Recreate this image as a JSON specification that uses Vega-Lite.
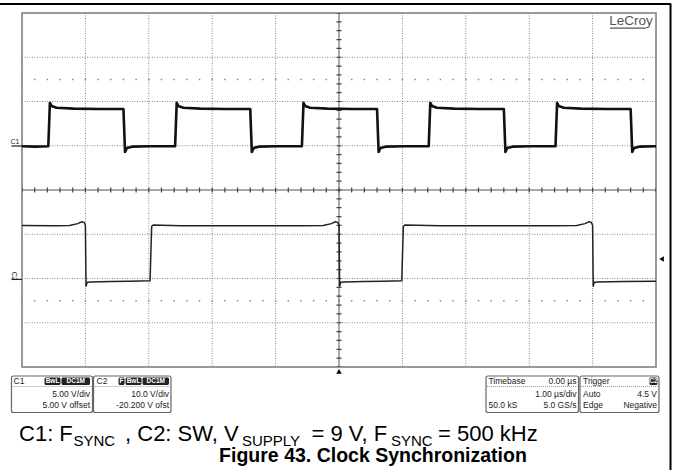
{
"$schema": "https://vega.github.io/schema/vega-lite/v6.json",
"width": 634, "height": 354,
"autosize": "none",
"padding": {"left": 22, "top": 13, "right": 17, "bottom": 103},
"background": "white",
"config": {"view": {"stroke": "#7a7a7a", "strokeWidth": 1.5}, "font": "Liberation Sans"},
"data": {"values": [{}]},
"datasets": {
"c1": [
{"t":-5,"v":0.99},{"t":-4.8,"v":0.98},
{"t":-4.585,"v":0.99},{"t":-4.56,"v":1.97},{"t":-4.535,"v":1.9},{"t":-4.455,"v":1.86},{"t":-4.185,"v":1.84},{"t":-3.785,"v":1.83},{"t":-3.4,"v":1.83},{"t":-3.375,"v":0.86},{"t":-3.345,"v":0.95},{"t":-3.265,"v":0.98},{"t":-2.985,"v":0.99},{"t":-2.6,"v":0.99},
{"t":-2.585,"v":0.99},{"t":-2.56,"v":1.97},{"t":-2.535,"v":1.9},{"t":-2.455,"v":1.86},{"t":-2.185,"v":1.84},{"t":-1.785,"v":1.83},{"t":-1.4,"v":1.83},{"t":-1.375,"v":0.86},{"t":-1.345,"v":0.95},{"t":-1.265,"v":0.98},{"t":-0.985,"v":0.99},{"t":-0.6,"v":0.99},
{"t":-0.585,"v":0.99},{"t":-0.56,"v":1.97},{"t":-0.535,"v":1.9},{"t":-0.455,"v":1.86},{"t":-0.185,"v":1.84},{"t":0.215,"v":1.83},{"t":0.6,"v":1.83},{"t":0.625,"v":0.86},{"t":0.655,"v":0.95},{"t":0.735,"v":0.98},{"t":1.015,"v":0.99},{"t":1.4,"v":0.99},
{"t":1.415,"v":0.99},{"t":1.44,"v":1.97},{"t":1.465,"v":1.9},{"t":1.545,"v":1.86},{"t":1.815,"v":1.84},{"t":2.215,"v":1.83},{"t":2.6,"v":1.83},{"t":2.625,"v":0.86},{"t":2.655,"v":0.95},{"t":2.735,"v":0.98},{"t":3.015,"v":0.99},{"t":3.4,"v":0.99},
{"t":3.415,"v":0.99},{"t":3.44,"v":1.97},{"t":3.465,"v":1.9},{"t":3.545,"v":1.86},{"t":3.815,"v":1.84},{"t":4.215,"v":1.83},{"t":4.6,"v":1.83},{"t":4.625,"v":0.86},{"t":4.655,"v":0.95},{"t":4.735,"v":0.98},{"t":5,"v":0.99}
],
"c2": [
{"t":-5,"v":-0.8},{"t":-4.5,"v":-0.81},{"t":-4.25,"v":-0.8},{"t":-4.12,"v":-0.76},{"t":-4.06,"v":-0.72},{"t":-4.02,"v":-0.73},{"t":-4.0,"v":-0.8},{"t":-3.99,"v":-2.18},{"t":-3.975,"v":-2.09},{"t":-3.93,"v":-2.08},{"t":-3.6,"v":-2.07},{"t":-3.3,"v":-2.06},{"t":-2.98,"v":-2.05},{"t":-2.955,"v":-0.82},{"t":-2.93,"v":-0.79},{"t":-2.5,"v":-0.81},{"t":-1.5,"v":-0.81},{"t":-0.6,"v":-0.81},{"t":-0.25,"v":-0.8},{"t":-0.12,"v":-0.76},{"t":-0.06,"v":-0.72},{"t":-0.02,"v":-0.73},{"t":0.0,"v":-0.8},{"t":0.01,"v":-2.18},{"t":0.025,"v":-2.09},{"t":0.07,"v":-2.08},{"t":0.4,"v":-2.07},{"t":0.7,"v":-2.06},{"t":0.99,"v":-2.05},{"t":1.015,"v":-0.82},{"t":1.04,"v":-0.79},{"t":1.6,"v":-0.81},{"t":2.5,"v":-0.81},{"t":3.4,"v":-0.81},{"t":3.75,"v":-0.8},{"t":3.88,"v":-0.76},{"t":3.94,"v":-0.72},{"t":3.98,"v":-0.73},{"t":4.0,"v":-0.8},{"t":4.01,"v":-2.18},{"t":4.025,"v":-2.09},{"t":4.07,"v":-2.08},{"t":4.5,"v":-2.07},{"t":5.0,"v":-2.06}
]
},
"layer": [
{"mark": {"type": "rule", "color": "#8a8a8a", "strokeWidth": 1, "strokeDash": [1, 1.5]}, "encoding": {"x": {"datum": -4, "axis": null}, "y": {"datum": 4, "axis": null}, "y2": {"datum": -4}}},
{"mark": {"type": "rule", "color": "#8a8a8a", "strokeWidth": 1, "strokeDash": [1, 1.5]}, "encoding": {"x": {"datum": -3, "axis": null}, "y": {"datum": 4, "axis": null}, "y2": {"datum": -4}}},
{"mark": {"type": "rule", "color": "#8a8a8a", "strokeWidth": 1, "strokeDash": [1, 1.5]}, "encoding": {"x": {"datum": -2, "axis": null}, "y": {"datum": 4, "axis": null}, "y2": {"datum": -4}}},
{"mark": {"type": "rule", "color": "#8a8a8a", "strokeWidth": 1, "strokeDash": [1, 1.5]}, "encoding": {"x": {"datum": -1, "axis": null}, "y": {"datum": 4, "axis": null}, "y2": {"datum": -4}}},
{"mark": {"type": "rule", "color": "#8a8a8a", "strokeWidth": 1, "strokeDash": [1, 1.5]}, "encoding": {"x": {"datum": 1, "axis": null}, "y": {"datum": 4, "axis": null}, "y2": {"datum": -4}}},
{"mark": {"type": "rule", "color": "#8a8a8a", "strokeWidth": 1, "strokeDash": [1, 1.5]}, "encoding": {"x": {"datum": 2, "axis": null}, "y": {"datum": 4, "axis": null}, "y2": {"datum": -4}}},
{"mark": {"type": "rule", "color": "#8a8a8a", "strokeWidth": 1, "strokeDash": [1, 1.5]}, "encoding": {"x": {"datum": 3, "axis": null}, "y": {"datum": 4, "axis": null}, "y2": {"datum": -4}}},
{"mark": {"type": "rule", "color": "#8a8a8a", "strokeWidth": 1, "strokeDash": [1, 1.5]}, "encoding": {"x": {"datum": 4, "axis": null}, "y": {"datum": 4, "axis": null}, "y2": {"datum": -4}}},
{"mark": {"type": "rule", "color": "#8a8a8a", "strokeWidth": 1, "strokeDash": [1, 1.5]}, "encoding": {"y": {"datum": 3, "axis": null}, "x": {"datum": -5, "axis": null}, "x2": {"datum": 5}}},
{"mark": {"type": "rule", "color": "#8a8a8a", "strokeWidth": 1, "strokeDash": [1, 1.5]}, "encoding": {"y": {"datum": 2, "axis": null}, "x": {"datum": -5, "axis": null}, "x2": {"datum": 5}}},
{"mark": {"type": "rule", "color": "#8a8a8a", "strokeWidth": 1, "strokeDash": [1, 1.5]}, "encoding": {"y": {"datum": 1, "axis": null}, "x": {"datum": -5, "axis": null}, "x2": {"datum": 5}}},
{"mark": {"type": "rule", "color": "#8a8a8a", "strokeWidth": 1, "strokeDash": [1, 1.5]}, "encoding": {"y": {"datum": -1, "axis": null}, "x": {"datum": -5, "axis": null}, "x2": {"datum": 5}}},
{"mark": {"type": "rule", "color": "#8a8a8a", "strokeWidth": 1, "strokeDash": [1, 1.5]}, "encoding": {"y": {"datum": -2, "axis": null}, "x": {"datum": -5, "axis": null}, "x2": {"datum": 5}}},
{"mark": {"type": "rule", "color": "#8a8a8a", "strokeWidth": 1, "strokeDash": [1, 1.5]}, "encoding": {"y": {"datum": -3, "axis": null}, "x": {"datum": -5, "axis": null}, "x2": {"datum": 5}}},
{"mark": {"type": "rule", "color": "#8a8a8a", "strokeWidth": 1.5, "strokeDash": [1.5, 11.18], "strokeDashOffset": 0.75}, "encoding": {"x": {"datum": -5, "axis": null}, "x2": {"datum": 5}, "y": {"datum": 2.5, "axis": null}}},
{"mark": {"type": "rule", "color": "#8a8a8a", "strokeWidth": 1.5, "strokeDash": [1.5, 11.18], "strokeDashOffset": 0.75}, "encoding": {"x": {"datum": -5, "axis": null}, "x2": {"datum": 5}, "y": {"datum": -2.5, "axis": null}}},
{"mark": {"type": "rule", "color": "#555", "strokeWidth": 1}, "encoding": {"x": {"datum": -5, "axis": null}, "x2": {"datum": 5}, "y": {"datum": 0, "axis": null}}},
{"mark": {"type": "rule", "color": "#444", "strokeWidth": 5, "strokeDash": [1.2, 11.48], "strokeDashOffset": 0.6}, "encoding": {"x": {"datum": -5, "axis": null}, "x2": {"datum": 5}, "y": {"datum": 0, "axis": null}}},
{"mark": {"type": "rule", "color": "#555", "strokeWidth": 1}, "encoding": {"y": {"datum": 4, "axis": null}, "y2": {"datum": -4}, "x": {"datum": 0, "axis": null}}},
{"mark": {"type": "rule", "color": "#444", "strokeWidth": 5, "strokeDash": [1.2, 7.65], "strokeDashOffset": 0.6}, "encoding": {"y": {"datum": 4, "axis": null}, "y2": {"datum": -4}, "x": {"datum": 0, "axis": null}}},
{"data": {"name": "c1"}, "mark": {"type": "line", "color": "#111", "strokeWidth": 2.6, "strokeJoin": "round"}, "encoding": {
 "x": {"field": "t", "type": "quantitative", "scale": {"domain": [-5, 5], "nice": false, "zero": false}, "axis": null},
 "y": {"field": "v", "type": "quantitative", "scale": {"domain": [-4, 4], "nice": false, "zero": false}, "axis": null}}},
{"data": {"name": "c2"}, "mark": {"type": "line", "color": "#222", "strokeWidth": 1.5}, "encoding": {"x": {"field": "t", "type": "quantitative", "axis": null}, "y": {"field": "v", "type": "quantitative", "axis": null}}},
{"mark": {"type": "rule", "color": "#000", "strokeWidth": 2}, "encoding": {"x": {"datum": -5.36, "axis": null}, "x2": {"datum": 5.24}, "y": {"datum": 4.203, "axis": null}}},
{"mark": {"type": "rule", "color": "#000", "strokeWidth": 2}, "encoding": {"x": {"datum": 5.229, "axis": null}, "y": {"datum": 4.203, "axis": null}, "y2": {"datum": -6.4}}},
{"mark": {"type": "text", "text": "LeCroy", "align": "center", "baseline": "alphabetic", "fontSize": 13.5, "color": "#555"}, "encoding": {"x": {"datum": 4.606, "axis": null}, "y": {"datum": 3.718, "axis": null}}},
{"mark": {"type": "rule", "color": "#555", "strokeWidth": 1.2}, "encoding": {"x": {"datum": 4.274, "axis": null}, "x2": {"datum": 4.842}, "y": {"datum": 3.66, "axis": null}}},
{"mark": {"type": "text", "text": "C1", "align": "center", "baseline": "middle", "fontSize": 7, "color": "#222"}, "encoding": {"x": {"datum": -5.11, "axis": null}, "y": {"datum": 1.085, "axis": null}}},
{"mark": {"type": "rule", "color": "#222", "strokeWidth": 1.2}, "encoding": {"x": {"datum": -5.166, "axis": null}, "x2": {"datum": -5.0}, "y": {"datum": 0.994, "axis": null}}},
{"mark": {"type": "text", "text": "C2", "align": "center", "baseline": "middle", "fontSize": 7, "angle": 90, "color": "#222"}, "encoding": {"x": {"datum": -5.13, "axis": null}, "y": {"datum": -1.95, "axis": null}}},
{"mark": {"type": "rule", "color": "#222", "strokeWidth": 1.2}, "encoding": {"x": {"datum": -5.166, "axis": null}, "x2": {"datum": -5.0}, "y": {"datum": -2.02, "axis": null}}},
{"mark": {"type": "point", "shape": "triangle-up", "filled": true, "color": "#000", "size": 30, "opacity": 1}, "encoding": {"x": {"datum": 0, "axis": null}, "y": {"datum": -4.1, "axis": null}}},
{"mark": {"type": "point", "shape": "triangle-left", "filled": true, "color": "#000", "size": 30, "opacity": 1}, "encoding": {"x": {"datum": 5.087, "axis": null}, "y": {"datum": -1.559, "axis": null}}},
{"mark": {"type": "rect", "fill": "white", "stroke": "#666", "strokeWidth": 1.2, "cornerRadius": 2}, "encoding": {"x": {"datum": -5.166, "axis": null}, "x2": {"datum": -3.888}, "y": {"datum": -4.203, "axis": null}, "y2": {"datum": -5.028}}},
{"mark": {"type": "rect", "fill": "white", "stroke": "#666", "strokeWidth": 1.2, "cornerRadius": 2}, "encoding": {"x": {"datum": -3.872, "axis": null}, "x2": {"datum": -2.65}, "y": {"datum": -4.203, "axis": null}, "y2": {"datum": -5.028}}},
{"mark": {"type": "rect", "fill": "white", "stroke": "#666", "strokeWidth": 1.2, "cornerRadius": 2}, "encoding": {"x": {"datum": 2.319, "axis": null}, "x2": {"datum": 3.778}, "y": {"datum": -4.203, "axis": null}, "y2": {"datum": -5.028}}},
{"mark": {"type": "rect", "fill": "white", "stroke": "#666", "strokeWidth": 1.2, "cornerRadius": 2}, "encoding": {"x": {"datum": 3.801, "axis": null}, "x2": {"datum": 5.047}, "y": {"datum": -4.203, "axis": null}, "y2": {"datum": -5.028}}},
{"mark": {"type": "rule", "color": "#999", "strokeWidth": 1, "strokeDash": [1, 1]}, "encoding": {"x": {"datum": -5.15, "axis": null}, "x2": {"datum": -3.905}, "y": {"datum": -4.441, "axis": null}}},
{"mark": {"type": "rule", "color": "#999", "strokeWidth": 1, "strokeDash": [1, 1]}, "encoding": {"x": {"datum": -3.855, "axis": null}, "x2": {"datum": -2.667}, "y": {"datum": -4.441, "axis": null}}},
{"mark": {"type": "rule", "color": "#999", "strokeWidth": 1, "strokeDash": [1, 1]}, "encoding": {"x": {"datum": 2.336, "axis": null}, "x2": {"datum": 3.761}, "y": {"datum": -4.441, "axis": null}}},
{"mark": {"type": "rule", "color": "#999", "strokeWidth": 1, "strokeDash": [1, 1]}, "encoding": {"x": {"datum": 3.818, "axis": null}, "x2": {"datum": 5.03}, "y": {"datum": -4.441, "axis": null}}},
{"mark": {"type": "rect", "fill": "#222", "cornerRadius": 1.5}, "encoding": {"x": {"datum": -4.645, "axis": null}, "x2": {"datum": -4.393}, "y": {"datum": -4.237, "axis": null}, "y2": {"datum": -4.407}}},
{"mark": {"type": "rect", "fill": "#222", "cornerRadius": 1.5}, "encoding": {"x": {"datum": -4.377, "axis": null}, "x2": {"datum": -3.927}, "y": {"datum": -4.237, "axis": null}, "y2": {"datum": -4.407}}},
{"mark": {"type": "rect", "fill": "#222", "cornerRadius": 1.5}, "encoding": {"x": {"datum": -3.478, "axis": null}, "x2": {"datum": -3.383}, "y": {"datum": -4.237, "axis": null}, "y2": {"datum": -4.407}}},
{"mark": {"type": "rect", "fill": "#222", "cornerRadius": 1.5}, "encoding": {"x": {"datum": -3.367, "axis": null}, "x2": {"datum": -3.115}, "y": {"datum": -4.237, "axis": null}, "y2": {"datum": -4.407}}},
{"mark": {"type": "rect", "fill": "#222", "cornerRadius": 1.5}, "encoding": {"x": {"datum": -3.099, "axis": null}, "x2": {"datum": -2.681}, "y": {"datum": -4.237, "axis": null}, "y2": {"datum": -4.407}}},
{"mark": {"type": "rect", "fill": "#222", "cornerRadius": 1.5}, "encoding": {"x": {"datum": 4.897, "axis": null}, "x2": {"datum": 5.024}, "y": {"datum": -4.237, "axis": null}, "y2": {"datum": -4.407}}},
{"mark": {"type": "text", "text": "BwL", "align": "center", "baseline": "middle", "fontSize": 6.5, "fontWeight": "bold", "color": "white"}, "encoding": {"x": {"datum": -4.519, "axis": null}, "y": {"datum": -4.322, "axis": null}}},
{"mark": {"type": "text", "text": "DC1M", "align": "center", "baseline": "middle", "fontSize": 6.5, "fontWeight": "bold", "color": "white"}, "encoding": {"x": {"datum": -4.152, "axis": null}, "y": {"datum": -4.322, "axis": null}}},
{"mark": {"type": "text", "text": "F", "align": "center", "baseline": "middle", "fontSize": 6.5, "fontWeight": "bold", "color": "white"}, "encoding": {"x": {"datum": -3.431, "axis": null}, "y": {"datum": -4.322, "axis": null}}},
{"mark": {"type": "text", "text": "BwL", "align": "center", "baseline": "middle", "fontSize": 6.5, "fontWeight": "bold", "color": "white"}, "encoding": {"x": {"datum": -3.241, "axis": null}, "y": {"datum": -4.322, "axis": null}}},
{"mark": {"type": "text", "text": "DC1M", "align": "center", "baseline": "middle", "fontSize": 6.5, "fontWeight": "bold", "color": "white"}, "encoding": {"x": {"datum": -2.89, "axis": null}, "y": {"datum": -4.322, "axis": null}}},
{"mark": {"type": "text", "text": "C2", "align": "center", "baseline": "middle", "fontSize": 6.5, "fontWeight": "bold", "color": "white"}, "encoding": {"x": {"datum": 4.961, "axis": null}, "y": {"datum": -4.322, "axis": null}}},
{"mark": {"type": "text", "text": "C1", "align": "left", "baseline": "middle", "fontSize": 8.5, "color": "#222"}, "encoding": {"x": {"datum": -5.134, "axis": null}, "y": {"datum": -4.316, "axis": null}}},
{"mark": {"type": "text", "text": "5.00 V/div", "align": "right", "baseline": "middle", "fontSize": 8.5, "color": "#222"}, "encoding": {"x": {"datum": -3.927, "axis": null}, "y": {"datum": -4.61, "axis": null}}},
{"mark": {"type": "text", "text": "5.00 V offset", "align": "right", "baseline": "middle", "fontSize": 8.5, "color": "#222"}, "encoding": {"x": {"datum": -3.927, "axis": null}, "y": {"datum": -4.859, "axis": null}}},
{"mark": {"type": "text", "text": "C2", "align": "left", "baseline": "middle", "fontSize": 8.5, "color": "#222"}, "encoding": {"x": {"datum": -3.825, "axis": null}, "y": {"datum": -4.316, "axis": null}}},
{"mark": {"type": "text", "text": "10.0 V/div", "align": "right", "baseline": "middle", "fontSize": 8.5, "color": "#222"}, "encoding": {"x": {"datum": -2.681, "axis": null}, "y": {"datum": -4.61, "axis": null}}},
{"mark": {"type": "text", "text": "-20.200 V ofst", "align": "right", "baseline": "middle", "fontSize": 8.5, "color": "#222"}, "encoding": {"x": {"datum": -2.681, "axis": null}, "y": {"datum": -4.859, "axis": null}}},
{"mark": {"type": "text", "text": "Timebase", "align": "left", "baseline": "middle", "fontSize": 8.5, "color": "#222"}, "encoding": {"x": {"datum": 2.358, "axis": null}, "y": {"datum": -4.316, "axis": null}}},
{"mark": {"type": "text", "text": "0.00 µs", "align": "right", "baseline": "middle", "fontSize": 8.5, "color": "#222"}, "encoding": {"x": {"datum": 3.746, "axis": null}, "y": {"datum": -4.316, "axis": null}}},
{"mark": {"type": "text", "text": "1.00 µs/div", "align": "right", "baseline": "middle", "fontSize": 8.5, "color": "#222"}, "encoding": {"x": {"datum": 3.746, "axis": null}, "y": {"datum": -4.61, "axis": null}}},
{"mark": {"type": "text", "text": "50.0 kS", "align": "left", "baseline": "middle", "fontSize": 8.5, "color": "#222"}, "encoding": {"x": {"datum": 2.358, "axis": null}, "y": {"datum": -4.859, "axis": null}}},
{"mark": {"type": "text", "text": "5.0 GS/s", "align": "right", "baseline": "middle", "fontSize": 8.5, "color": "#222"}, "encoding": {"x": {"datum": 3.746, "axis": null}, "y": {"datum": -4.859, "axis": null}}},
{"mark": {"type": "text", "text": "Trigger", "align": "left", "baseline": "middle", "fontSize": 8.5, "color": "#222"}, "encoding": {"x": {"datum": 3.849, "axis": null}, "y": {"datum": -4.316, "axis": null}}},
{"mark": {"type": "text", "text": "Auto", "align": "left", "baseline": "middle", "fontSize": 8.5, "color": "#222"}, "encoding": {"x": {"datum": 3.849, "axis": null}, "y": {"datum": -4.61, "axis": null}}},
{"mark": {"type": "text", "text": "4.5 V", "align": "right", "baseline": "middle", "fontSize": 8.5, "color": "#222"}, "encoding": {"x": {"datum": 5.016, "axis": null}, "y": {"datum": -4.61, "axis": null}}},
{"mark": {"type": "text", "text": "Edge", "align": "left", "baseline": "middle", "fontSize": 8.5, "color": "#222"}, "encoding": {"x": {"datum": 3.849, "axis": null}, "y": {"datum": -4.859, "axis": null}}},
{"mark": {"type": "text", "text": "Negative", "align": "right", "baseline": "middle", "fontSize": 8.5, "color": "#222"}, "encoding": {"x": {"datum": 5.016, "axis": null}, "y": {"datum": -4.859, "axis": null}}},
{"mark": {"type": "text", "text": "C1: F", "align": "left", "baseline": "alphabetic", "fontSize": 22, "color": "#000"}, "encoding": {"x": {"datum": -5.047, "axis": null}, "y": {"datum": -5.672, "axis": null}}},
{"mark": {"type": "text", "text": "SYNC", "align": "left", "baseline": "alphabetic", "fontSize": 15, "color": "#000"}, "encoding": {"x": {"datum": -4.188, "axis": null}, "y": {"datum": -5.785, "axis": null}}},
{"mark": {"type": "text", "text": ", C2: SW, V", "align": "left", "baseline": "alphabetic", "fontSize": 22, "color": "#000"}, "encoding": {"x": {"datum": -3.375, "axis": null}, "y": {"datum": -5.672, "axis": null}}},
{"mark": {"type": "text", "text": "SUPPLY", "align": "left", "baseline": "alphabetic", "fontSize": 15, "color": "#000"}, "encoding": {"x": {"datum": -1.53, "axis": null}, "y": {"datum": -5.785, "axis": null}}},
{"mark": {"type": "text", "text": "= 9 V, F", "align": "left", "baseline": "alphabetic", "fontSize": 22, "color": "#000"}, "encoding": {"x": {"datum": -0.434, "axis": null}, "y": {"datum": -5.672, "axis": null}}},
{"mark": {"type": "text", "text": "SYNC", "align": "left", "baseline": "alphabetic", "fontSize": 15, "color": "#000"}, "encoding": {"x": {"datum": 0.82, "axis": null}, "y": {"datum": -5.785, "axis": null}}},
{"mark": {"type": "text", "text": "= 500 kHz", "align": "left", "baseline": "alphabetic", "fontSize": 22, "color": "#000"}, "encoding": {"x": {"datum": 1.562, "axis": null}, "y": {"datum": -5.672, "axis": null}}},
{"mark": {"type": "text", "text": "Figure 43. Clock Synchronization", "align": "center", "baseline": "alphabetic", "fontSize": 19.5, "fontWeight": "bold", "color": "#000"}, "encoding": {"x": {"datum": 0.536, "axis": null}, "y": {"datum": -6.14, "axis": null}}}
]
}
